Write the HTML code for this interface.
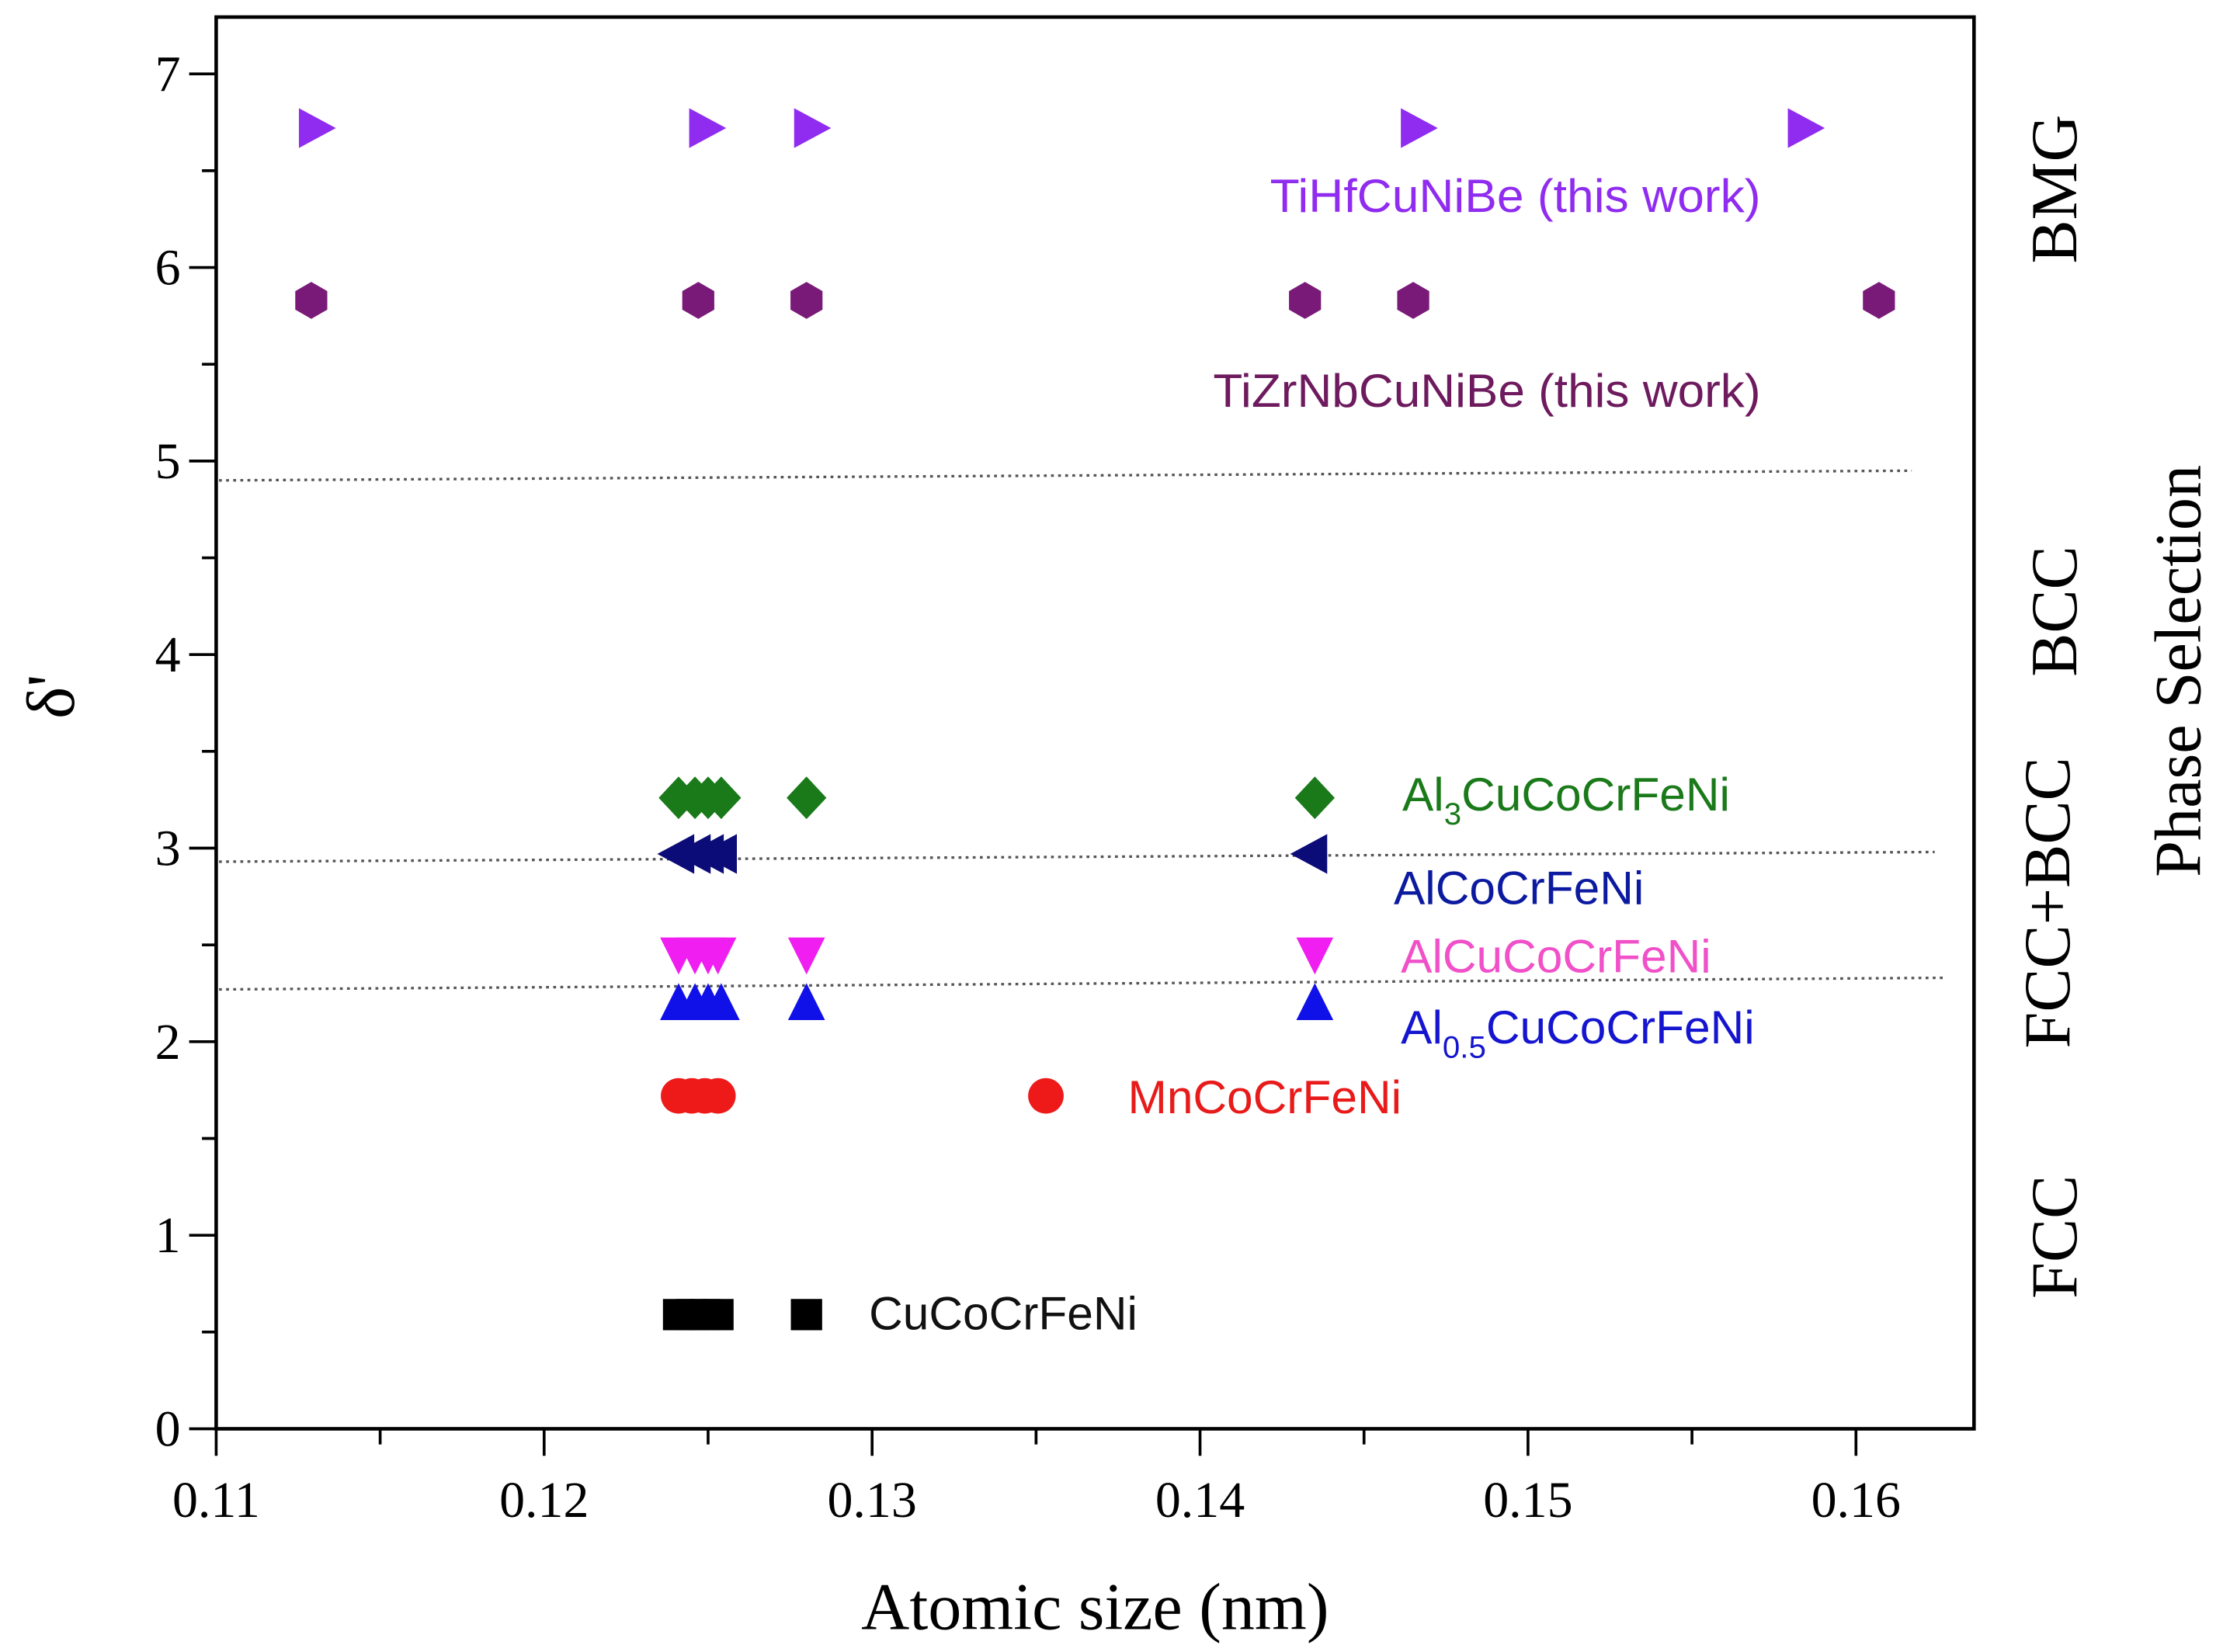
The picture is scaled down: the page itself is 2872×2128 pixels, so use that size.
<!DOCTYPE html>
<html><head><meta charset="utf-8"><style>
html,body{margin:0;padding:0;background:#fff}
svg{display:block}
.serif{font-family:"Liberation Serif",serif}
.sans{font-family:"Liberation Sans",sans-serif}
</style></head><body>
<svg id="chart" width="2872" height="2128" viewBox="0 0 1568 1162" preserveAspectRatio="none" xmlns="http://www.w3.org/2000/svg">
<rect x="0" y="0" width="1568" height="1162" fill="#fff"/>
<g id="axes"></g>
<g id="marks"></g>
<g id="labels"></g>
</svg>
<script>
const xTicks=[0.11,0.12,0.13,0.14,0.15,0.16];
const xTickLabels=["0.11","0.12","0.13","0.14","0.15","0.16"];
const yTicks=[0,1,2,3,4,5,6,7];
const tihfX=[0.113,0.1249,0.1281,0.1466,0.1584];
const tihfY=[6.72,6.72,6.72,6.72,6.72];
const tizrX=[0.1129,0.1247,0.128,0.1432,0.1465,0.1607];
const tizrY=[5.83,5.83,5.83,5.83,5.83,5.83];
const al3X=[0.1241,0.1246,0.125,0.1254,0.128,0.1435];
const al3Y=[3.26,3.26,3.26,3.26,3.26,3.26];
const alX=[0.1241,0.1246,0.125,0.1254,0.1434];
const alY=[2.97,2.97,2.97,2.97,2.97];
const alcuX=[0.1241,0.1246,0.125,0.1253,0.128,0.1435];
const alcuY=[2.45,2.45,2.45,2.45,2.45,2.45];
const al05X=[0.1241,0.1246,0.125,0.1254,0.128,0.1435];
const al05Y=[2.2,2.2,2.2,2.2,2.2,2.2];
const mnX=[0.1241,0.1245,0.1249,0.1253,0.1353];
const mnY=[1.72,1.72,1.72,1.72,1.72];
const cuX=[0.1241,0.1245,0.1249,0.1253,0.128];
const cuY=[0.59,0.59,0.59,0.59,0.59];
const boundaryStart=[4.9,2.93,2.27];
const boundaryEnd=[4.95,2.98,2.33];
const boundaryEndX=[0.1617,0.1624,0.1627];

const NS="http://www.w3.org/2000/svg";
const X0=152,X1=1305,Y0=1005,Y7=52;
function sx(v){return X0+(v-0.11)/0.05*(X1-X0);}
function sy(v){return Y0-v/7*(Y0-Y7);}
function el(tag,attrs,parent){const e=document.createElementNS(NS,tag);for(const k in attrs)e.setAttribute(k,attrs[k]);parent.appendChild(e);return e;}
const axes=document.getElementById('axes'),marks=document.getElementById('marks'),labels=document.getElementById('labels');

const frame=el('rect',{x:152,y:12,width:1236,height:993,fill:'none',stroke:'#000','stroke-width':2.5},axes);



for(let i=0;i<yTicks.length;i++){
  const y=sy(yTicks[i]);
  const t=el('line',{x1:133,x2:152,y1:y,y2:y,stroke:'#000','stroke-width':2},axes);
  
  
  const lb=el('text',{x:127,y:y+12,'text-anchor':'end','font-size':36,class:'serif'},axes);
  lb.textContent=String(yTicks[i]);
  
  
  if(i<yTicks.length-1){const ym=sy(yTicks[i]+0.5);
    const m=el('line',{x1:142,x2:152,y1:ym,y2:ym,stroke:'#000','stroke-width':2},axes);
    
    }
}
for(let i=0;i<xTicks.length;i++){
  const x=sx(xTicks[i]);
  const t=el('line',{x1:x,x2:x,y1:1005,y2:1024,stroke:'#000','stroke-width':2},axes);
  
  
  const lb=el('text',{x:x,y:1067,'text-anchor':'middle','font-size':36,class:'serif'},axes);
  lb.textContent=xTickLabels[i];
  
  
  const xm=sx(xTicks[i]+0.005);
  if(xm<1388){const m=el('line',{x1:xm,x2:xm,y1:1005,y2:1016,stroke:'#000','stroke-width':2},axes);
    
    }
}
for(let i=0;i<boundaryStart.length;i++){
  const b=el('line',{x1:sx(0.11)+2,y1:sy(boundaryStart[i]),x2:sx(boundaryEndX[i]),y2:sy(boundaryEnd[i]),stroke:'#555','stroke-width':1.8,'stroke-dasharray':'2 3'},axes);
  
  
}

function marker(shape,cx,cy,color){
  let e;
  if(shape==='circle') e=el('circle',{cx:cx,cy:cy,r:12.5,fill:color},marks);
  else if(shape==='square') e=el('rect',{x:cx-11,y:cy-11,width:22,height:22,fill:color},marks);
  else {
    let p;
    if(shape==='right') p=[[cx-11,cy-14],[cx+15,cy],[cx-11,cy+14]];
    if(shape==='left') p=[[cx+11,cy-14],[cx-15,cy],[cx+11,cy+14]];
    if(shape==='down') p=[[cx-13,cy-12],[cx+13,cy-12],[cx,cy+14]];
    if(shape==='up') p=[[cx-13,cy+12],[cx+13,cy+12],[cx,cy-14]];
    if(shape==='diamond') p=[[cx,cy-15],[cx+14,cy],[cx,cy+15],[cx-14,cy]];
    if(shape==='hex'){p=[];for(let k=0;k<6;k++){const a=Math.PI/6+k*Math.PI/3;p.push([cx+13*Math.cos(a),cy+13*Math.sin(a)]);}}
    e=el('polygon',{points:p.map(q=>q.join(',')).join(' '),fill:color},marks);
  }
  return e;
}
function series(xs,ys,shape,color,name){
  for(let i=0;i<xs.length;i++){
    const m=marker(shape,sx(xs[i]),sy(ys[i]),color);
    
    
  }
}
series(tihfX,tihfY,'right','#8f2cf0','tihfcunibe-point');
series(tizrX,tizrY,'hex','#7a1a78','tizrnbcunibe-point');
series(al3X,al3Y,'diamond','#1a7a1a','al3cucocrfeni-point');
series(alX,alY,'left','#0c0c78','alcocrfeni-point');
series(alcuX,alcuY,'down','#f01ef0','alcucocrfeni-point');
series(al05X,al05Y,'up','#1010e8','al05cucocrfeni-point');
series(mnX,mnY,'circle','#ee1a1a','mncocrfeni-point');
series(cuX,cuY,'square','#000','cucocrfeni-point');

function txt(x,y,s,opts,name){
  const t=el('text',Object.assign({x:x,y:y},opts),labels);
  t.innerHTML=s;
  
  
  return t;
}
const sl={'font-size':33,class:'sans'};
txt(893,149,'TiHfCuNiBe (this work)',Object.assign({fill:'#8f2cf0',textLength:345,lengthAdjust:'spacingAndGlyphs'},sl),'tihfcunibe-label');
txt(853,286,'TiZrNbCuNiBe (this work)',Object.assign({fill:'#6e1a5e',textLength:385,lengthAdjust:'spacingAndGlyphs'},sl),'tizrnbcunibe-label');
txt(986,570,'Al<tspan font-size="22" dy="10">3</tspan><tspan dy="-10">CuCoCrFeNi</tspan>',Object.assign({fill:'#1a7a1a'},sl),'al3cucocrfeni-label');
txt(980,636,'AlCoCrFeNi',Object.assign({fill:'#0c1aa0'},sl),'alcocrfeni-label');
txt(985,684,'AlCuCoCrFeNi',Object.assign({fill:'#f050c8'},sl),'alcucocrfeni-label');
txt(985,734,'Al<tspan font-size="22" dy="10">0.5</tspan><tspan dy="-10">CuCoCrFeNi</tspan>',Object.assign({fill:'#1515d0'},sl),'al05cucocrfeni-label');
txt(793,783,'MnCoCrFeNi',Object.assign({fill:'#e81a1a'},sl),'mncocrfeni-label');
txt(611,935,'CuCoCrFeNi',Object.assign({fill:'#111'},sl),'cucocrfeni-label');

const rl={'font-size':46,class:'serif','text-anchor':'middle'};
txt(0,0,'BMG',Object.assign({transform:'translate(1460,133) rotate(-90)'},rl),'bmg-region-label');
txt(0,0,'BCC',Object.assign({transform:'translate(1460,430) rotate(-90)'},rl),'bcc-region-label');
txt(0,0,'FCC+BCC',Object.assign({transform:'translate(1455,635) rotate(-90)','font-size':37},rl),'fcc-bcc-region-label');
txt(0,0,'FCC',Object.assign({transform:'translate(1460,870) rotate(-90)'},rl),'fcc-region-label');
txt(0,0,'Phase Selection',Object.assign({transform:'translate(1547,472) rotate(-90)','font-size':48},rl),'phase-selection-title');
txt(770,1146,'Atomic size (nm)',Object.assign({'font-size':47,class:'serif','text-anchor':'middle'}),'x-axis-title');
txt(0,0,'δ\'',Object.assign({transform:'translate(52,490) rotate(-90)','font-size':48,class:'serif','text-anchor':'middle'}),'y-axis-title');
</script>
</body></html>
